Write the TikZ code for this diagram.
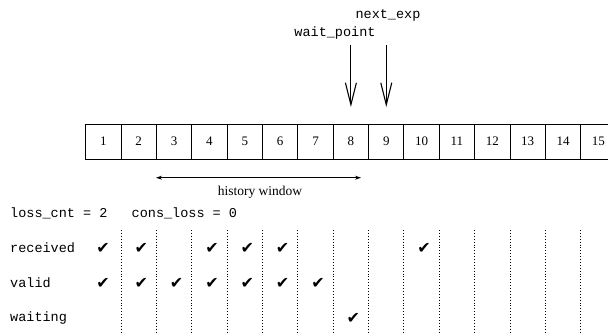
\documentclass[tikz,border=0pt]{standalone}
\usepackage{fontspec}
\setmainfont{Liberation Serif}
\setmonofont{Liberation Mono}
\newfontfamily\symfont{DejaVu Sans}
\usetikzlibrary{arrows.meta}
\tikzset{
  cell/.style={draw, line width=1pt, minimum width=35.36pt, minimum height=35pt, inner sep=0pt, font=\fontsize{13}{13}\selectfont},
  mono/.style={font=\ttfamily\fontsize{13.5}{13.5}\selectfont, inner sep=0pt},
  serif/.style={font=\fontsize{13.5}{13.5}\selectfont, inner sep=0pt},
  bigarrow/.style={line width=1.1pt, -{Straight Barb[length=22pt,width=11pt,line width=1.1pt]}},
  histarrow/.style={line width=0.8pt, {Stealth[length=6pt,width=4pt]}-{Stealth[length=6pt,width=4pt]}},
  sep/.style={dotted, line width=0.9pt},
  tick/.style={font=\symfont\fontsize{16}{16}\selectfont, inner sep=0pt}
}
\begin{document}
\begin{tikzpicture}[x=1pt,y=-1pt]
\useasboundingbox (0,0) rectangle (608,333);
% cells
\foreach \i in {1,...,15} {
  \node[cell] (b\i) at ({85.7+35.36*(\i-0.5)},141.5) {\i};
}
% labels and pointer arrows
\node[mono] (wp) at (335,33) {wait\_point};
\node[mono] (ne) at (388,15) {next\_exp};
\coordinate (wps) at (350.9,45);
\coordinate (wpe) at (350.9,107);
\coordinate (nes) at (386.3,45);
\coordinate (nee) at (386.3,107);
\draw[bigarrow] (wps) -- (wpe);
\draw[bigarrow] (nes) -- (nee);
% history window
\coordinate (hs) at (156,177.7);
\coordinate (he) at (361,177.7);
\draw[histarrow] (hs) -- (he);
\node[serif] (hw) at (260,192) {history window};
% counters
\node[mono, anchor=west] (cnt) at (10,213.5) {loss\_cnt = 2\ \ \ cons\_loss = 0};
\node[mono, anchor=west] (lrec) at (10,248) {received};
\node[mono, anchor=west] (lval) at (10,283) {valid};
\node[mono, anchor=west] (lwait) at (10,318) {waiting};
% dotted separators
\foreach \i in {1,...,14} {
  \coordinate (st\i) at ({85.7+35.36*\i},230);
  \coordinate (sb\i) at ({85.7+35.36*\i},333);
  \draw[sep] (st\i) -- (sb\i);
}
% checks
\foreach \c in {1,2,4,5,6,10} {
  \node[tick] (r\c) at ({\c==1 ? 103 : 85.7+35.36*(\c-0.5)+2.5},248) {✔};
}
\foreach \c in {1,2,3,4,5,6,7} {
  \node[tick] (v\c) at ({\c==1 ? 103 : 85.7+35.36*(\c-0.5)+2.5},283) {✔};
}
\node[tick] (w8) at ({85.7+35.36*7.5+2.5},318) {✔};
\end{tikzpicture}
\end{document}
